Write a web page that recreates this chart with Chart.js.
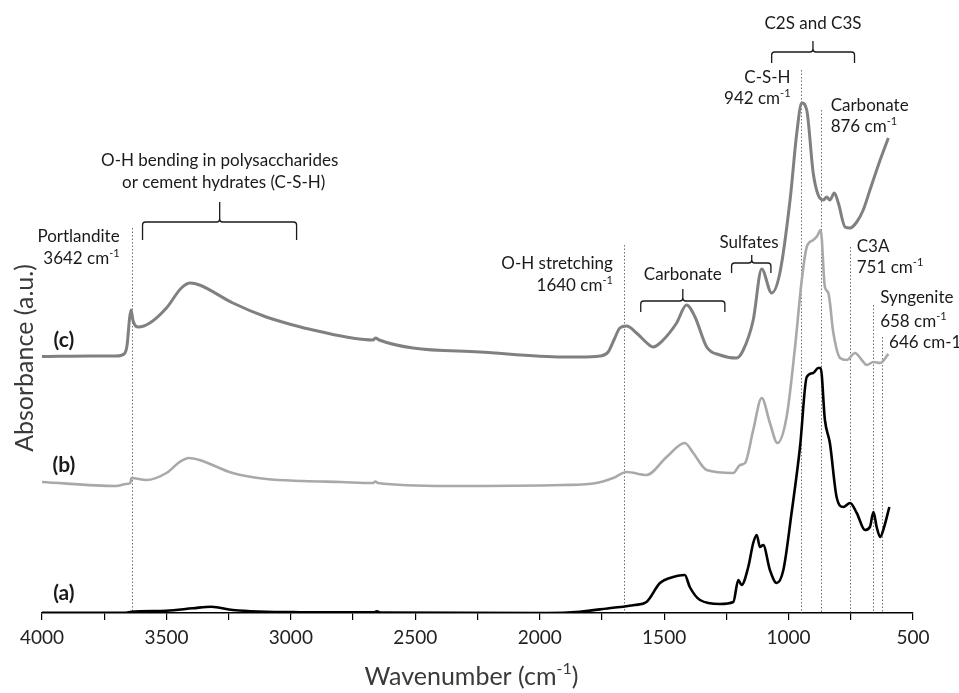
<!DOCTYPE html>
<html>
<head>
<meta charset="utf-8">
<script src="https://cdn.jsdelivr.net/npm/chart.js@4.4.1/dist/chart.umd.min.js"></script>
<style>
  html, body { margin: 0; padding: 0; background: #fff; }
  #wrap { width: 959px; height: 693px; }
</style>
</head>
<body>
<div id="wrap"><canvas id="ftir"></canvas></div>
<script>
// FTIR spectra (a), (b), (c) - wavenumber in cm-1, absorbance in arbitrary units
const cWn = [4000,3800,3702,3670,3658,3648,3642,3634,3612,3567,3500,3440,3404,3367,3233,3099,2992,2911,2670,2660,2645,2509,2241,1906,1839,1758,1725,1700,1678,1651,1611,1560,1544,1504,1450,1410,1376,1329,1276,1209,1182,1142,1108,1068,1035,994,967,947,927,901,881,860,847,834,816,800,773,753,726,700,673,632,599];
const cAbs = [2.565,2.57,2.57,2.59,2.68,2.95,3.03,2.92,2.86,2.90,3.05,3.25,3.30,3.28,3.10,2.96,2.88,2.83,2.73,2.75,2.73,2.65,2.61,2.56,2.56,2.57,2.61,2.74,2.85,2.87,2.80,2.68,2.66,2.73,2.90,3.08,2.96,2.66,2.58,2.55,2.63,2.93,3.44,3.20,3.40,4.13,4.80,5.10,5.03,4.40,4.18,4.13,4.16,4.13,4.20,4.10,3.86,3.85,3.91,4.03,4.23,4.53,4.75];

const bWn = [4000,3702,3662,3645,3641,3581,3500,3447,3410,3367,3234,3099,2950,2800,2670,2660,2650,2375,1906,1772,1705,1651,1571,1490,1417,1383,1329,1222,1195,1175,1142,1108,1075,1045,1008,974,947,927,901,885,871,854,840,820,793,766,733,706,686,659,632,599];
const bAbs = [1.31,1.27,1.29,1.30,1.35,1.33,1.40,1.51,1.55,1.53,1.40,1.34,1.32,1.31,1.30,1.315,1.30,1.27,1.28,1.30,1.35,1.41,1.38,1.56,1.70,1.60,1.43,1.40,1.48,1.50,1.83,2.15,1.90,1.70,1.96,2.66,3.33,3.66,3.73,3.77,3.83,3.26,3.20,2.80,2.55,2.53,2.60,2.53,2.48,2.51,2.50,2.59];

const aWn = [4000,3662,3641,3500,3394,3320,3233,2965,2665,2655,2640,1973,1839,1705,1665,1618,1571,1517,1477,1417,1397,1356,1276,1222,1202,1189,1162,1142,1128,1115,1102,1075,1048,1021,988,954,927,901,881,871,854,834,807,780,753,726,693,673,659,646,632,616,595];
const aAbs = [0.003,0.003,0.013,0.023,0.047,0.063,0.03,0.008,0.006,0.018,0.005,0.0,0.013,0.053,0.063,0.08,0.11,0.30,0.35,0.38,0.26,0.13,0.09,0.11,0.33,0.28,0.46,0.70,0.78,0.66,0.68,0.43,0.30,0.43,1.00,1.66,2.36,2.40,2.45,2.45,1.93,1.70,1.16,1.06,1.10,1.00,0.83,0.86,1.01,0.86,0.76,0.86,1.06];

// x axis ticks (cm-1)
const xMin = 500, xMax = 4000, xStep = 250, xLabelStep = 500;

// peak marker lines: wavenumber, top of the dotted line (a.u.)
const peakWn = [3640, 1662, 950, 871, 753, 659, 626];
const peakTop = [3.85, 3.68, 5.43, 5.03, 3.66, 3.08, 2.76];

// annotations: text, wavenumber, absorbance, alignment ('^' marks a superscript)
const notes = [
  ['Portlandite', 3688, 3.76, 'right'],
  ['3642 cm^-1', 3688, 3.54, 'right'],
  ['O-H bending in polysaccharides', 3286, 4.52, 'center'],
  ['or cement hydrates (C-S-H)', 3270, 4.30, 'center'],
  ['O-H stretching', 1706, 3.49, 'right'],
  ['1640 cm^-1', 1706, 3.27, 'right'],
  ['Carbonate', 1425, 3.38, 'center'],
  ['Sulfates', 1159, 3.70, 'center'],
  ['C2S and C3S', 902, 5.89, 'center'],
  ['C-S-H', 992, 5.35, 'right'],
  ['942 cm^-1', 992, 5.14, 'right'],
  ['Carbonate', 831, 5.07, 'left'],
  ['876 cm^-1', 831, 4.86, 'left'],
  ['C3A', 726, 3.66, 'left'],
  ['751 cm^-1', 726, 3.45, 'left'],
  ['Syngenite', 632, 3.15, 'left'],
  ['658 cm^-1', 632, 2.91, 'left'],
  ['646 cm-1', 596, 2.70, 'left']
];

// braces: left wn, right wn, centre wn, bar level, end level, tip level
const braces = [
  [3596, 2977, 3286, 3.91, 3.73, 4.11],
  [1594, 1256, 1425, 3.12, 3.01, 3.24],
  [1229, 1071, 1148, 3.50, 3.40, 3.58],
  [1068, 735, 902, 5.61, 5.50, 5.72]
];

const seriesLabels = [['(c)', 3912, 2.73], ['(b)', 3912, 1.48], ['(a)', 3912, 0.20]];

const FONT = 'Lato, "Open Sans", sans-serif';

function toPoints(xs, ys) {
  return xs.map((x, i) => ({ x: x, y: ys[i] }));
}

function drawRich(ctx, str, x, y, align, size, weight) {
  const parts = str.split('^');
  const base = parts[0];
  const sup = parts[1] || '';
  const w8 = weight || 'normal';
  const supSize = Math.round(size * 0.62);
  ctx.font = w8 + ' ' + size + 'px ' + FONT;
  const wBase = ctx.measureText(base).width;
  ctx.font = w8 + ' ' + supSize + 'px ' + FONT;
  const wSup = sup ? ctx.measureText(sup).width : 0;
  const total = wBase + wSup;
  let left = x;
  if (align === 'right') left = x - total;
  else if (align === 'center') left = x - total / 2;
  ctx.textAlign = 'left';
  ctx.textBaseline = 'middle';
  ctx.font = w8 + ' ' + size + 'px ' + FONT;
  ctx.fillText(base, left, y);
  if (sup) {
    ctx.font = w8 + ' ' + supSize + 'px ' + FONT;
    ctx.fillText(sup, left + wBase, y - size * 0.33);
  }
  return left + total;
}

const annotate = {
  id: 'annotate',
  beforeDatasetsDraw(chart) {
    const { ctx, scales: { x, y } } = chart;
    const base = y.getPixelForValue(0);
    ctx.save();
    ctx.strokeStyle = '#6f6f6f';
    ctx.lineWidth = 1;
    ctx.setLineDash([1.5, 2]);
    peakWn.forEach((wn, i) => {
      const px = Math.round(x.getPixelForValue(wn)) + 0.5;
      ctx.beginPath();
      ctx.moveTo(px, y.getPixelForValue(peakTop[i]));
      ctx.lineTo(px, base);
      ctx.stroke();
    });
    ctx.restore();
  },
  afterDatasetsDraw(chart) {
    const { ctx, scales: { x, y } } = chart;
    ctx.save();
    ctx.fillStyle = '#1a1a1a';
    notes.forEach(n => {
      drawRich(ctx, n[0], x.getPixelForValue(n[1]), y.getPixelForValue(n[2]), n[3], 17);
    });
    seriesLabels.forEach(s => {
      drawRich(ctx, s[0], x.getPixelForValue(s[1]), y.getPixelForValue(s[2]), 'center', 21, 'bold');
    });

    // braces
    ctx.strokeStyle = '#1a1a1a';
    ctx.lineWidth = 1.3;
    braces.forEach(b => {
      const x1 = x.getPixelForValue(b[0]);
      const x2 = x.getPixelForValue(b[1]);
      const xc = x.getPixelForValue(b[2]);
      const yb = y.getPixelForValue(b[3]);
      const ye = y.getPixelForValue(b[4]);
      const yt = y.getPixelForValue(b[5]);
      const r = 3;
      ctx.beginPath();
      ctx.moveTo(x1, ye);
      ctx.lineTo(x1, yb + r);
      ctx.quadraticCurveTo(x1, yb, x1 + r, yb);
      ctx.lineTo(xc - r, yb);
      ctx.quadraticCurveTo(xc, yb, xc, yb - r);
      ctx.lineTo(xc, yt);
      ctx.moveTo(xc, yb - r);
      ctx.quadraticCurveTo(xc, yb, xc + r, yb);
      ctx.lineTo(x2 - r, yb);
      ctx.quadraticCurveTo(x2, yb, x2, yb + r);
      ctx.lineTo(x2, ye);
      ctx.stroke();
    });

    // axis titles
    ctx.fillStyle = '#3a3a3a';
    const area = chart.chartArea;
    ctx.font = '25px ' + FONT;
    const closeW = ctx.measureText(')').width;
    const end = drawRich(ctx, 'Wavenumber (cm^-1', (area.left + area.right) / 2 - 6 - closeW / 2, 677, 'center', 25);
    ctx.font = '25px ' + FONT;
    ctx.textAlign = 'left';
    ctx.fillText(')', end, 677);

    ctx.translate(25, 358);
    ctx.rotate(-Math.PI / 2);
    ctx.textAlign = 'center';
    ctx.textBaseline = 'middle';
    ctx.font = '25px ' + FONT;
    ctx.fillText('Absorbance (a.u.)', 0, 0);
    ctx.restore();
  }
};

new Chart(document.getElementById('ftir').getContext('2d'), {
  type: 'line',
  data: {
    datasets: [
      { label: '(c)', data: toPoints(cWn, cAbs), borderColor: '#808080', borderWidth: 3 },
      { label: '(b)', data: toPoints(bWn, bAbs), borderColor: '#a9a9a9', borderWidth: 2.6 },
      { label: '(a)', data: toPoints(aWn, aAbs), borderColor: '#000000', borderWidth: 2.6 }
    ]
  },
  options: {
    responsive: true,
    maintainAspectRatio: false,
    animation: false,
    layout: { padding: { left: 42, right: 46, top: 0, bottom: 0 } },
    elements: {
      point: { radius: 0 },
      line: { cubicInterpolationMode: 'monotone', fill: false }
    },
    scales: {
      x: {
        type: 'linear',
        reverse: true,
        min: xMin,
        max: xMax,
        afterFit: (s) => { s.height = 80; },
        grid: { drawOnChartArea: false, drawTicks: true, tickLength: 7, color: '#000', lineWidth: 1.2 },
        border: { display: true, color: '#000', width: 1.6 },
        ticks: {
          stepSize: xStep,
          autoSkip: false,
          maxRotation: 0,
          padding: 6,
          color: '#222',
          font: { family: FONT, size: 19 },
          callback: (v) => (v % xLabelStep === 0 ? String(v) : '')
        }
      },
      y: { display: false, min: 0, max: 6.13 }
    },
    plugins: {
      legend: { display: false },
      tooltip: { enabled: false }
    }
  },
  plugins: [annotate]
});
</script>
</body>
</html>
